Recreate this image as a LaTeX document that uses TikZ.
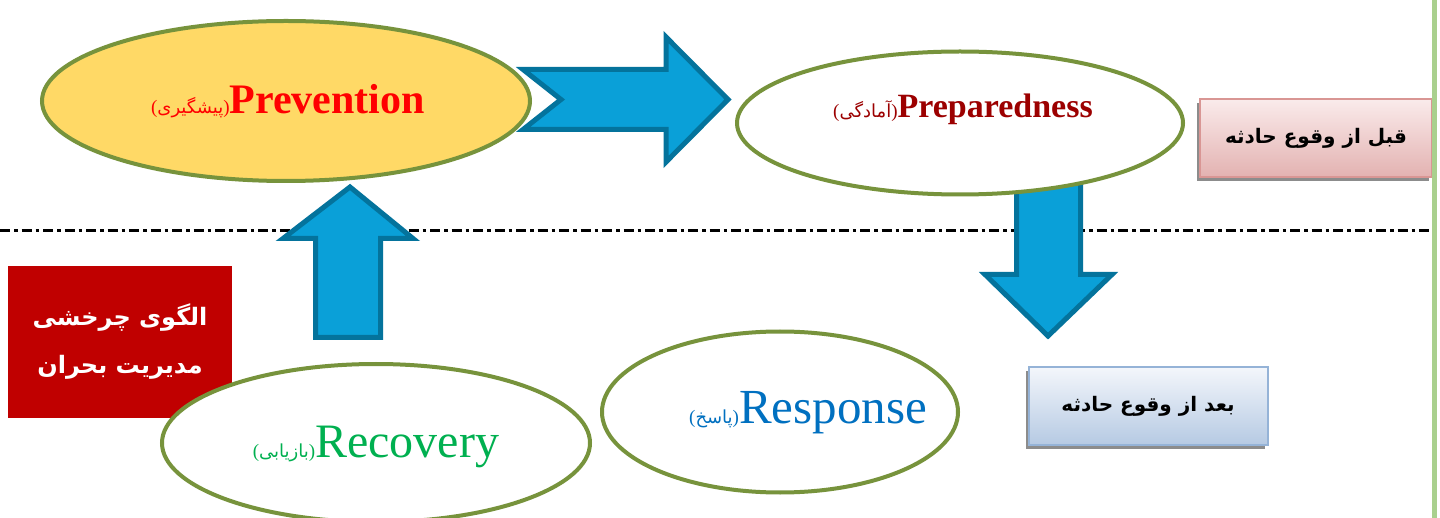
\documentclass[tikz,border=0pt]{standalone}
\usepackage{fontspec}
\setmainfont{Liberation Serif}
\newfontfamily\arabicfont[Script=Arabic]{DejaVu Sans}
\TeXXeTstate=1
\usetikzlibrary{shapes.geometric,shadows}
\definecolor{ellborder}{HTML}{77933C}
\definecolor{prevfill}{HTML}{FFD966}
\definecolor{arrfill}{HTML}{0AA0D8}
\definecolor{arrline}{HTML}{04739C}
\definecolor{titlered}{HTML}{C00000}
\definecolor{prevtext}{HTML}{FF0000}
\definecolor{preptext}{HTML}{9C0000}
\definecolor{rectext}{HTML}{00B050}
\definecolor{resptext}{HTML}{0070C0}
\definecolor{pinktop}{HTML}{FAEBEB}
\definecolor{pinkbot}{HTML}{E3B2B1}
\definecolor{pinkline}{HTML}{D99694}
\definecolor{bluetop}{HTML}{F3F6FB}
\definecolor{bluebot}{HTML}{B6CAE3}
\definecolor{blueline}{HTML}{95B3D7}
\definecolor{edgegreen}{HTML}{A9D08E}
\newcommand{\faparen}[1]{{\fontsize{19}{22}\selectfont\mdseries(}{\arabicfont\fontsize{18}{22}\selectfont\mdseries\beginR #1\endR}{\fontsize{19}{22}\selectfont\mdseries)}}
\begin{document}
\begin{tikzpicture}[x=1pt,y=-1pt,
  ell/.style={ellipse, draw=ellborder, line width=4pt, inner sep=0pt},
  blockarrow/.style={fill=arrfill, draw=arrline, line width=5pt, line join=miter},
  stagebox/.style={rectangle, inner sep=0pt, line width=2pt,
     drop shadow={shadow xshift=-3pt, shadow yshift=-4pt, fill=black!45, opacity=1}},
]
\useasboundingbox[fill=white] (0,0) rectangle (1440,518);

% dash-dot separator
\coordinate (sepL) at (0,231);
\coordinate (sepR) at (1432,231);
\draw[line width=3pt, dash pattern=on 10pt off 4pt on 3.5pt off 4pt] (sepL) -- (sepR);

% title box
\node[rectangle, fill=titlered, minimum width=224pt, minimum height=151pt, inner sep=0pt,
      text=white, align=center,
      font=\arabicfont\bfseries\fontsize{24}{48}\selectfont] (title) at (120,342)
      {\beginR الگوی چرخشی\endR\\\beginR مدیریت بحران\endR};

% block arrows
\draw[blockarrow] (523,69.5) -- (666,69.5) -- (666,37) -- (728,99.5) -- (666,162) -- (666,129.5)
      -- (523,129.5) -- (561,99.5) -- cycle;
\draw[blockarrow] (350,187) -- (413,238.5) -- (380.5,238.5) -- (380.5,337.5) -- (315.5,337.5)
      -- (315.5,238.5) -- (283,238.5) -- cycle;
\draw[blockarrow] (1016.5,175) -- (1080.5,175) -- (1080.5,274.5) -- (1112,274.5) -- (1048,336)
      -- (985,274.5) -- (1016.5,274.5) -- cycle;

% ellipses
\node[ell, fill=prevfill, minimum width=488pt, minimum height=160pt] (prev) at (286,101) {};
\node[ell, fill=white, minimum width=446pt, minimum height=143pt] (prep) at (960,123) {};
\node[ell, fill=white, minimum width=428pt, minimum height=158pt] (rec) at (376,443) {};
\node[ell, fill=white, minimum width=356pt, minimum height=161pt] (resp) at (780,412) {};

% labels
\node[anchor=base, inner sep=0pt, text=prevtext, font=\bfseries\fontsize{42}{46}\selectfont]
  (prevlbl) at (288,114) {\faparen{پیشگیری}Prevention};
\node[anchor=base, inner sep=0pt, text=preptext, font=\bfseries\fontsize{34}{40}\selectfont]
  (preplbl) at (963,118) {\faparen{آمادگی}Preparedness};
\node[anchor=base, inner sep=0pt, text=rectext, font=\fontsize{48}{52}\selectfont]
  (reclbl) at (376,457) {\faparen{بازیابی}Recovery};
\node[anchor=base, inner sep=0pt, text=resptext, font=\fontsize{49}{52}\selectfont]
  (resplbl) at (808,423) {\faparen{پاسخ}Response};

% stage boxes
\node[stagebox, top color=pinktop, bottom color=pinkbot, draw=pinkline,
      minimum width=232pt, minimum height=78pt,
      font=\arabicfont\bfseries\fontsize{20}{22}\selectfont] (before) at (1316,138)
      {\beginR قبل از وقوع حادثه\endR};
\node[stagebox, top color=bluetop, bottom color=bluebot, draw=blueline,
      minimum width=239pt, minimum height=77pt,
      font=\arabicfont\bfseries\fontsize{20}{22}\selectfont] (after) at (1148,406)
      {\beginR بعد از وقوع حادثه\endR};

% right edge line
\coordinate (edgeT) at (1434.5,0);
\coordinate (edgeB) at (1434.5,518);
\draw[edgegreen, line width=5pt] (edgeT) -- (edgeB);
\end{tikzpicture}
\end{document}
